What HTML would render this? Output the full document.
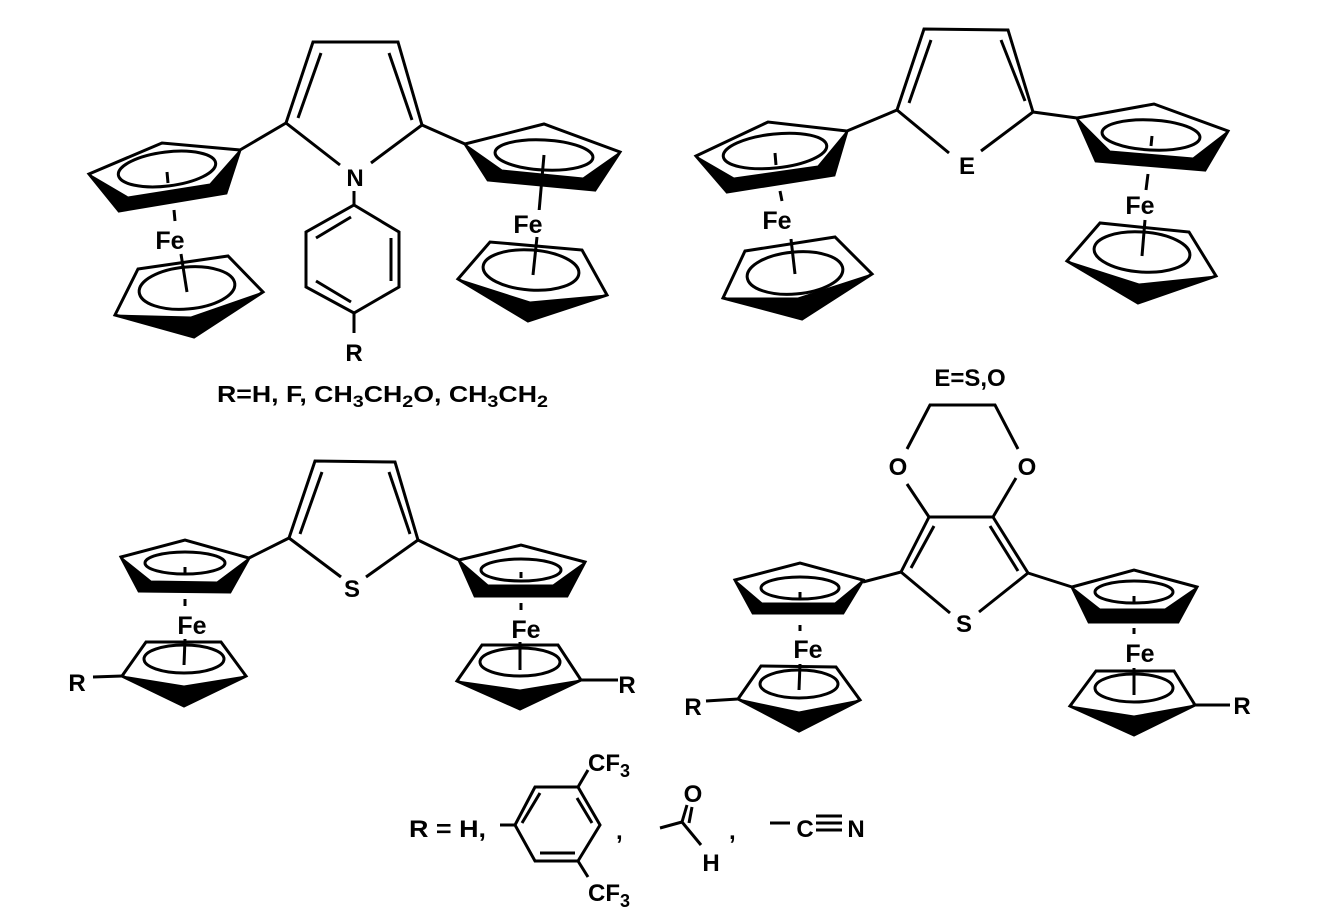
<!DOCTYPE html>
<html><head><meta charset="utf-8"><style>
html,body{margin:0;padding:0;background:#fff}
svg{display:block}
text{font-family:"Liberation Sans",Arial,sans-serif;font-weight:bold;fill:#000}
</style></head><body>
<svg width="1342" height="916" viewBox="0 0 1342 916" xmlns="http://www.w3.org/2000/svg">
<g stroke="#000" stroke-width="3" fill="none" stroke-linejoin="miter" stroke-linecap="butt">
<!-- ===== Molecule 1 ===== -->
<polyline points="286,123 313,42 398,42 422,125"/>
<line x1="286" y1="123" x2="340" y2="165"/>
<line x1="422" y1="125" x2="371" y2="163"/>
<line x1="321" y1="53" x2="298" y2="118"/>
<line x1="389" y1="53" x2="412" y2="120"/>
<line x1="286" y1="123" x2="240" y2="150"/>
<line x1="422" y1="125" x2="465" y2="144"/>
<polygon points="89,174 162,143 240,150 226,193 119,211"/>
<ellipse cx="167" cy="169" rx="49" ry="17" transform="rotate(-7 167 169)"/>
<line x1="167" y1="172" x2="168" y2="183"/>
<line x1="174" y1="210" x2="175" y2="221"/>
<polygon points="115,315 138,269 228,256 263,292 194,337"/>
<ellipse cx="187" cy="288" rx="48" ry="21" transform="rotate(-5 187 288)"/>
<line x1="181" y1="254" x2="187" y2="292"/>
<polygon points="465,144 544,124 620,152 595,190 488,180"/>
<ellipse cx="544" cy="155" rx="49" ry="15" transform="rotate(3 544 155)"/>
<line x1="544" y1="155" x2="539" y2="212"/>
<polygon points="458,279 490,242 582,250 607,295 528,321"/>
<ellipse cx="531" cy="270" rx="48" ry="20" transform="rotate(4 531 270)"/>
<line x1="537" y1="237" x2="533" y2="275"/>
<line x1="354" y1="191" x2="354" y2="205"/>
<polygon points="354,205 399,232 399,287 354,313 306,287 306,232"/>
<line x1="316" y1="238" x2="351" y2="217"/>
<line x1="391" y1="238" x2="391" y2="281"/>
<line x1="316" y1="281" x2="351" y2="302"/>
<line x1="354" y1="313" x2="354" y2="333"/>

<!-- ===== Molecule 2 ===== -->
<polyline points="897,110 924,29 1008,30 1033,112"/>
<line x1="897" y1="110" x2="949" y2="153"/>
<line x1="1033" y1="112" x2="981" y2="151"/>
<line x1="931" y1="40" x2="909" y2="103"/>
<line x1="1001" y1="40" x2="1025" y2="101"/>
<line x1="897" y1="110" x2="847" y2="131"/>
<line x1="1033" y1="112" x2="1077" y2="118"/>
<polygon points="696,156 768,122 847,131 834,175 727,192"/>
<ellipse cx="775" cy="151" rx="52" ry="17" transform="rotate(-6 775 151)"/>
<line x1="775" y1="153" x2="776" y2="165"/>
<line x1="780" y1="191" x2="782" y2="201"/>
<polygon points="723,298 745,251 835,237 872,274 802,319"/>
<ellipse cx="795" cy="273" rx="48" ry="21" transform="rotate(-5 795 273)"/>
<line x1="791" y1="239" x2="795" y2="274"/>
<polygon points="1077,118 1154,104 1228,131 1205,170 1096,161"/>
<ellipse cx="1151" cy="135" rx="49" ry="15" transform="rotate(3 1151 135)"/>
<line x1="1152" y1="136" x2="1151" y2="146"/>
<line x1="1148" y1="174" x2="1146" y2="190"/>
<polygon points="1067,261 1100,223 1189,232 1216,276 1138,303"/>
<ellipse cx="1142" cy="252" rx="48" ry="20" transform="rotate(4 1142 252)"/>
<line x1="1145" y1="220" x2="1142" y2="256"/>

<!-- ===== Molecule 3 ===== -->
<polyline points="289,538 315,461 395,462 418,540"/>
<line x1="289" y1="538" x2="341" y2="577"/>
<line x1="418" y1="540" x2="366" y2="577"/>
<line x1="322" y1="472" x2="300" y2="534"/>
<line x1="389" y1="472" x2="410" y2="534"/>
<line x1="289" y1="538" x2="249" y2="558"/>
<line x1="418" y1="540" x2="459" y2="560"/>
<polygon points="121,557 185,540 249,558 230,592 139,591"/>
<ellipse cx="185" cy="563" rx="40" ry="11"/>
<line x1="185" y1="567" x2="185" y2="574"/>
<line x1="185" y1="599" x2="185" y2="606"/>
<polygon points="122,676 146,642 221,642 246,676 184,706"/>
<ellipse cx="184" cy="659" rx="40" ry="14"/>
<line x1="185" y1="639" x2="184" y2="665"/>
<line x1="93" y1="677" x2="122" y2="676"/>
<polygon points="459,560 521,545 585,562 567,596 475,596"/>
<ellipse cx="521" cy="570" rx="40" ry="11"/>
<line x1="521" y1="572" x2="521" y2="578"/>
<line x1="521" y1="603" x2="521" y2="610"/>
<polygon points="457,681 482,645 558,645 581,680 520,709"/>
<ellipse cx="520" cy="662" rx="40" ry="14"/>
<line x1="520" y1="642" x2="520" y2="670"/>
<line x1="581" y1="680" x2="618" y2="680"/>

<!-- ===== Molecule 4 ===== -->
<polyline points="907,449 930,405 995,405 1018,449"/>
<line x1="907" y1="484" x2="929" y2="517"/>
<line x1="1016" y1="478" x2="993" y2="517"/>
<line x1="929" y1="517" x2="993" y2="517"/>
<line x1="929" y1="517" x2="901" y2="572"/>
<line x1="993" y1="517" x2="1028" y2="573"/>
<line x1="934" y1="526" x2="911" y2="568"/>
<line x1="990" y1="526" x2="1018" y2="571"/>
<line x1="901" y1="572" x2="950" y2="613"/>
<line x1="1028" y1="573" x2="979" y2="612"/>
<line x1="901" y1="572" x2="863" y2="582"/>
<line x1="1028" y1="573" x2="1072" y2="587"/>
<polygon points="735,580 800,563 863,580 843,613 753,613"/>
<ellipse cx="800" cy="588" rx="39" ry="11"/>
<line x1="800" y1="592" x2="800" y2="599"/>
<line x1="800" y1="625" x2="800" y2="631"/>
<polygon points="738,699 761,666 836,667 860,700 799,731"/>
<ellipse cx="799" cy="684" rx="39" ry="14"/>
<line x1="800" y1="664" x2="799" y2="690"/>
<line x1="706" y1="701" x2="738" y2="699"/>
<polygon points="1072,587 1134,570 1197,587 1178,622 1089,622"/>
<ellipse cx="1134" cy="592" rx="39" ry="11"/>
<line x1="1134" y1="596" x2="1134" y2="602"/>
<line x1="1134" y1="628" x2="1134" y2="634"/>
<polygon points="1070,706 1096,671 1174,671 1195,705 1134,735"/>
<ellipse cx="1134" cy="688" rx="39" ry="14"/>
<line x1="1134" y1="668" x2="1134" y2="695"/>
<line x1="1195" y1="705" x2="1230" y2="705"/>

<!-- ===== Legend ===== -->
<line x1="500" y1="825" x2="515" y2="825"/>
<polygon points="515,825 535,787 578,787 600,825 578,861 535,861"/>
<line x1="522" y1="823" x2="540" y2="793"/>
<line x1="577" y1="798" x2="592" y2="823"/>
<line x1="540" y1="853" x2="575" y2="853"/>
<line x1="578" y1="787" x2="588" y2="770"/>
<line x1="578" y1="861" x2="588" y2="877"/>
<line x1="660" y1="828" x2="682" y2="822"/>
<line x1="682" y1="822" x2="687" y2="805"/>
<line x1="689" y1="823" x2="692" y2="807"/>
<line x1="682" y1="822" x2="701" y2="845"/>
<line x1="770" y1="823" x2="790" y2="823"/>
<line x1="816" y1="816" x2="842" y2="816"/>
<line x1="816" y1="823" x2="842" y2="823"/>
<line x1="816" y1="830" x2="842" y2="830"/>
</g>

<g fill="#000" stroke="#000" stroke-width="1" stroke-linejoin="round">
<polygon points="89,174 119,211 226,193 240,150 210,184 128,197"/>
<polygon points="115,315 194,337 263,292 191,317"/>
<polygon points="465,144 488,180 595,190 620,152 583,178 502,170"/>
<polygon points="458,279 528,321 607,295 530,302"/>
<polygon points="696,156 727,192 834,175 847,131 818,166 734,178"/>
<polygon points="723,298 802,319 872,274 798,298"/>
<polygon points="1077,118 1096,161 1205,170 1228,131 1193,158 1110,151"/>
<polygon points="1067,261 1138,303 1216,276 1139,284"/>
<polygon points="121,557 139,591 230,592 249,558 217,582 151,581"/>
<polygon points="122,676 184,706 246,676 184,686"/>
<polygon points="459,560 475,596 567,596 585,562 553,585 488,585"/>
<polygon points="457,681 520,709 581,680 520,690"/>
<polygon points="735,580 753,613 843,613 863,580 835,603 762,603"/>
<polygon points="738,699 799,731 860,700 799,712"/>
<polygon points="1072,587 1089,622 1178,622 1197,587 1165,609 1100,609"/>
<polygon points="1070,706 1134,735 1195,705 1134,716"/>
</g>

<g font-size="25" text-anchor="middle">
<rect x="154" y="226" width="32" height="25" fill="#fff"/>
<text x="170" y="249">Fe</text>
<rect x="512" y="210" width="32" height="25" fill="#fff"/>
<text x="528" y="233">Fe</text>
<text x="777" y="229">Fe</text>
<text x="1140" y="214">Fe</text>
<text x="192" y="634">Fe</text>
<text x="526" y="638">Fe</text>
<text x="808" y="658">Fe</text>
<text x="1140" y="662">Fe</text>
</g>
<g font-size="24" text-anchor="middle">
<text x="355" y="186">N</text>
<text x="354" y="361">R</text>
<text x="967" y="174">E</text>
<text x="352" y="597">S</text>
<text x="964" y="632">S</text>
<text x="898" y="475">O</text>
<text x="1027" y="475">O</text>
<text x="77" y="691">R</text>
<text x="627" y="693">R</text>
<text x="693" y="715">R</text>
<text x="1242" y="714">R</text>
<text x="970" y="386">E=S,O</text>
</g>
<text x="217" y="402" font-size="23" textLength="331" lengthAdjust="spacingAndGlyphs">R=H, F, CH<tspan font-size="17" dy="5">3</tspan><tspan dy="-5">CH</tspan><tspan font-size="17" dy="5">2</tspan><tspan dy="-5">O, CH</tspan><tspan font-size="17" dy="5">3</tspan><tspan dy="-5">CH</tspan><tspan font-size="17" dy="5">2</tspan></text>
<g font-size="24">
<text x="409" y="837" textLength="77" lengthAdjust="spacingAndGlyphs">R = H,</text>
<text x="588" y="771">CF<tspan font-size="18" dy="6">3</tspan></text>
<text x="588" y="901">CF<tspan font-size="18" dy="6">3</tspan></text>
<text x="616" y="839">,</text>
<text x="693" y="802" text-anchor="middle">O</text>
<text x="711" y="871" text-anchor="middle">H</text>
<text x="729" y="839">,</text>
<text x="805" y="837" text-anchor="middle">C</text>
<text x="856" y="837" text-anchor="middle">N</text>
</g>
</svg>
</body></html>
